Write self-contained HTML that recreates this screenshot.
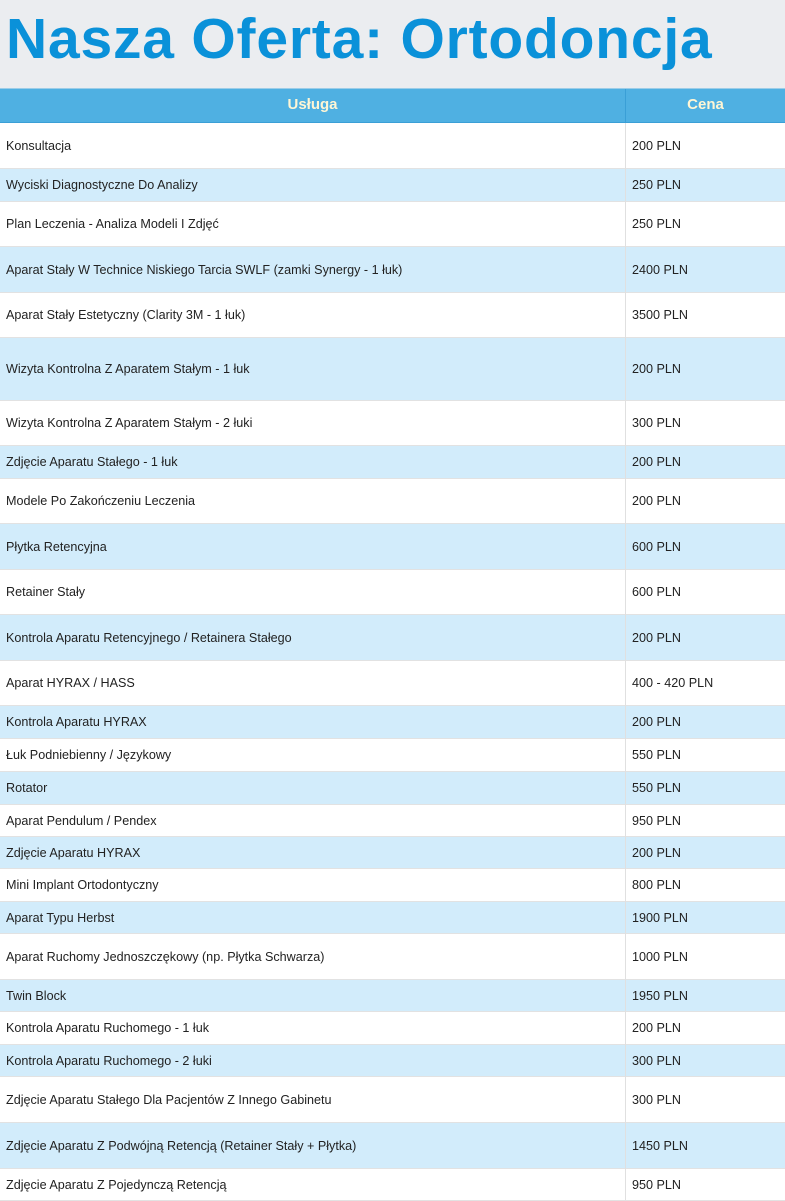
<!DOCTYPE html>
<html><head><meta charset="utf-8"><style>
*{margin:0;padding:0;box-sizing:border-box}
body{width:785px;height:1200px;overflow:hidden;background:#fff;font-family:"Liberation Sans",sans-serif;position:relative}
.top{position:absolute;left:0;top:0;width:785px;height:88px;background:#ebedf0}
.title{position:absolute;left:6px;top:6px;font-size:57px;font-weight:bold;color:#0a91d9;letter-spacing:0.8px;white-space:nowrap}
.hdr{position:absolute;left:0;top:88px;width:785px;height:35px;background:#4fb0e2;border-top:1px solid #9ccde8;border-bottom:1px solid #3a9fd6}
.hdr div{position:absolute;top:0;height:33px;line-height:31px;text-align:center;color:#fff6d5;font-weight:bold;font-size:15px}
.r{position:absolute;left:0;width:785px;border-bottom:1px solid #e2e2e2;font-size:12.6px;color:#222}
.r.b{background:#d2ecfb}
.r span{position:absolute;top:50%;transform:translateY(-50%);white-space:nowrap}
.r .a{left:6px}.r .p{left:632px}
.vl{position:absolute;left:625px;top:88px;width:1px;height:1112px;background:#e0e0e0}
</style></head><body>
<div class="top"><div class="title">Nasza Oferta: Ortodoncja</div></div>
<div class="hdr"><div style="left:0;width:625px">Usługa</div><div style="left:625px;width:160px;border-left:1px solid #3a9fd6">Cena</div></div>
<div class="r" style="top:123px;height:46px"><span class="a">Konsultacja</span><span class="p">200 PLN</span></div>
<div class="r b" style="top:169px;height:33px"><span class="a">Wyciski Diagnostyczne Do Analizy</span><span class="p">250 PLN</span></div>
<div class="r" style="top:202px;height:45px"><span class="a">Plan Leczenia - Analiza Modeli I Zdjęć</span><span class="p">250 PLN</span></div>
<div class="r b" style="top:247px;height:46px"><span class="a">Aparat Stały W Technice Niskiego Tarcia SWLF (zamki Synergy - 1 łuk)</span><span class="p">2400 PLN</span></div>
<div class="r" style="top:293px;height:45px"><span class="a">Aparat Stały Estetyczny (Clarity 3M - 1 łuk)</span><span class="p">3500 PLN</span></div>
<div class="r b" style="top:338px;height:63px"><span class="a">Wizyta Kontrolna Z Aparatem Stałym - 1 łuk</span><span class="p">200 PLN</span></div>
<div class="r" style="top:401px;height:45px"><span class="a">Wizyta Kontrolna Z Aparatem Stałym - 2 łuki</span><span class="p">300 PLN</span></div>
<div class="r b" style="top:446px;height:33px"><span class="a">Zdjęcie Aparatu Stałego - 1 łuk</span><span class="p">200 PLN</span></div>
<div class="r" style="top:479px;height:45px"><span class="a">Modele Po Zakończeniu Leczenia</span><span class="p">200 PLN</span></div>
<div class="r b" style="top:524px;height:46px"><span class="a">Płytka Retencyjna</span><span class="p">600 PLN</span></div>
<div class="r" style="top:570px;height:45px"><span class="a">Retainer Stały</span><span class="p">600 PLN</span></div>
<div class="r b" style="top:615px;height:46px"><span class="a">Kontrola Aparatu Retencyjnego / Retainera Stałego</span><span class="p">200 PLN</span></div>
<div class="r" style="top:661px;height:45px"><span class="a">Aparat HYRAX / HASS</span><span class="p">400 - 420 PLN</span></div>
<div class="r b" style="top:706px;height:33px"><span class="a">Kontrola Aparatu HYRAX</span><span class="p">200 PLN</span></div>
<div class="r" style="top:739px;height:33px"><span class="a">Łuk Podniebienny / Językowy</span><span class="p">550 PLN</span></div>
<div class="r b" style="top:772px;height:33px"><span class="a">Rotator</span><span class="p">550 PLN</span></div>
<div class="r" style="top:805px;height:32px"><span class="a">Aparat Pendulum / Pendex</span><span class="p">950 PLN</span></div>
<div class="r b" style="top:837px;height:32px"><span class="a">Zdjęcie Aparatu HYRAX</span><span class="p">200 PLN</span></div>
<div class="r" style="top:869px;height:33px"><span class="a">Mini Implant Ortodontyczny</span><span class="p">800 PLN</span></div>
<div class="r b" style="top:902px;height:32px"><span class="a">Aparat Typu Herbst</span><span class="p">1900 PLN</span></div>
<div class="r" style="top:934px;height:46px"><span class="a">Aparat Ruchomy Jednoszczękowy (np. Płytka Schwarza)</span><span class="p">1000 PLN</span></div>
<div class="r b" style="top:980px;height:32px"><span class="a">Twin Block</span><span class="p">1950 PLN</span></div>
<div class="r" style="top:1012px;height:33px"><span class="a">Kontrola Aparatu Ruchomego - 1 łuk</span><span class="p">200 PLN</span></div>
<div class="r b" style="top:1045px;height:32px"><span class="a">Kontrola Aparatu Ruchomego - 2 łuki</span><span class="p">300 PLN</span></div>
<div class="r" style="top:1077px;height:46px"><span class="a">Zdjęcie Aparatu Stałego Dla Pacjentów Z Innego Gabinetu</span><span class="p">300 PLN</span></div>
<div class="r b" style="top:1123px;height:46px"><span class="a">Zdjęcie Aparatu Z Podwójną Retencją (Retainer Stały + Płytka)</span><span class="p">1450 PLN</span></div>
<div class="r" style="top:1169px;height:32px"><span class="a">Zdjęcie Aparatu Z Pojedynczą Retencją</span><span class="p">950 PLN</span></div>
<div class="vl" style="top:123px;height:1077px"></div>
</body></html>
